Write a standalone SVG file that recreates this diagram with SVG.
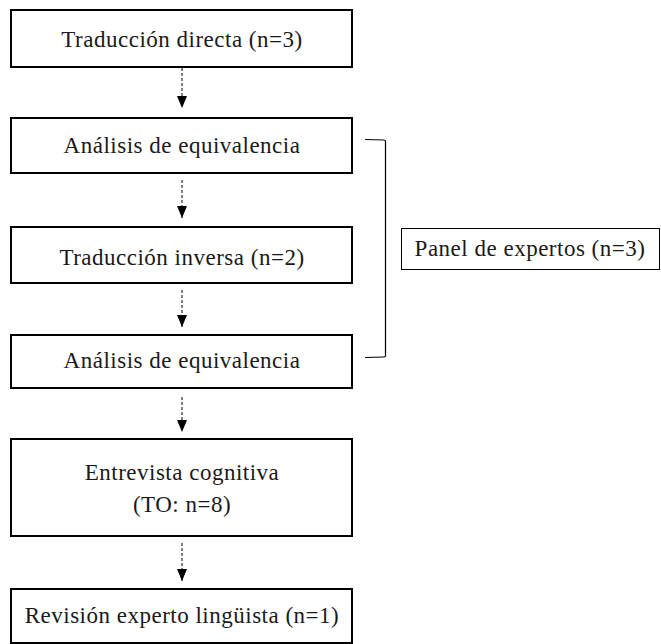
<svg xmlns="http://www.w3.org/2000/svg" width="661" height="644" viewBox="0 0 661 644">
  <style>
    .box { fill: #ffffff; stroke: #000000; stroke-width: 2; }
    .thin { fill: #ffffff; stroke: #000000; stroke-width: 1; }
    .lbl { font-family: "Liberation Serif", "Times New Roman", serif; font-size: 23px; letter-spacing: 0.5px; fill: #1a1a1a; text-anchor: middle; }
    .flow { stroke: #000000; stroke-width: 1; stroke-dasharray: 3 2; fill: none; }
    .brace { stroke: #000000; stroke-width: 1.2; fill: none; }
  </style>
  <defs>
    <marker id="tri" viewBox="0 0 12 10" refX="12" refY="5" markerWidth="12" markerHeight="10" markerUnits="userSpaceOnUse" orient="auto">
      <path d="M0,0 L12,5 L0,10 Z" fill="#000000"/>
    </marker>
  </defs>

  <rect width="661" height="644" fill="#ffffff"/>

  <g id="traduccion-directa">
    <rect class="box" x="11" y="10" width="341" height="57"/>
    <text class="lbl" x="182" y="47">Traducción directa (n=3)</text>
  </g>

  <g id="analisis-1">
    <rect class="box" x="11" y="118" width="341" height="55"/>
    <text class="lbl" x="182" y="153">Análisis de equivalencia</text>
  </g>

  <g id="traduccion-inversa">
    <rect class="box" x="11" y="227" width="341" height="56"/>
    <text class="lbl" x="182" y="265">Traducción inversa (n=2)</text>
  </g>

  <g id="analisis-2">
    <rect class="box" x="11" y="335" width="341" height="53"/>
    <text class="lbl" x="182" y="368">Análisis de equivalencia</text>
  </g>

  <g id="entrevista">
    <rect class="box" x="11" y="439" width="341" height="97"/>
    <text class="lbl" x="182" y="480">Entrevista cognitiva</text>
    <text class="lbl" x="182" y="512">(TO: n=8)</text>
  </g>

  <g id="revision">
    <rect class="box" x="11" y="589" width="341" height="54"/>
    <text class="lbl" x="182" y="623">Revisión experto lingüista (n=1)</text>
  </g>

  <g id="panel">
    <rect class="thin" x="401.5" y="228.5" width="258" height="41"/>
    <text class="lbl" x="530" y="256">Panel de expertos (n=3)</text>
  </g>

  <g id="connectors">
    <line class="flow" x1="182" y1="68" x2="182" y2="108" marker-end="url(#tri)"/>
    <line class="flow" x1="182" y1="180" x2="182" y2="218" marker-end="url(#tri)"/>
    <line class="flow" x1="182" y1="290" x2="182" y2="327" marker-end="url(#tri)"/>
    <line class="flow" x1="182" y1="397" x2="182" y2="432" marker-end="url(#tri)"/>
    <line class="flow" x1="182" y1="543" x2="182" y2="581" marker-end="url(#tri)"/>
    <path class="brace" d="M365,139.5 L384,140 Q385.5,140 385.5,141.5 L385.5,355.5 Q385.5,357 384,357 L365,357.5"/>
  </g>
</svg>
